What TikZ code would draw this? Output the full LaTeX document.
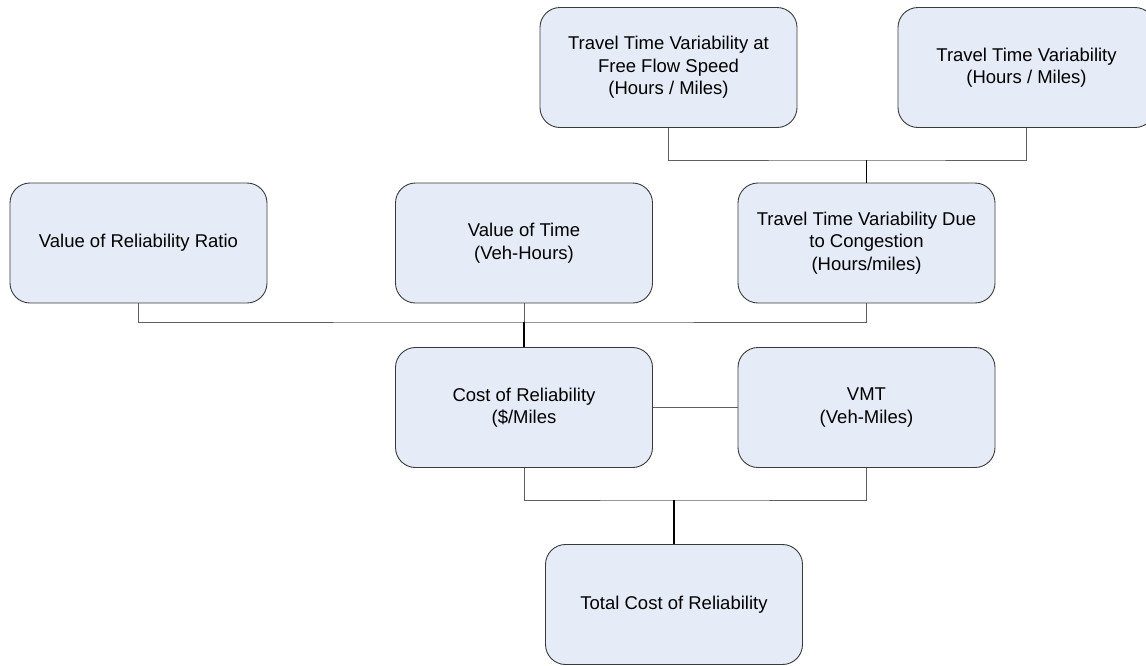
\documentclass[tikz,border=0pt]{standalone}
\usepackage{fontspec}
\setmainfont{Liberation Sans}
\definecolor{boxfill}{HTML}{E6ECF7}
\definecolor{boxline}{HTML}{3A3A3A}
\definecolor{linkgray}{HTML}{606060}
\begin{document}
\begin{tikzpicture}[x=1pt,y=-1pt,
  box/.style={draw=boxline, fill=boxfill, rounded corners=20pt, line width=0.9pt,
    minimum width=257pt, minimum height=120pt, align=center, inner sep=0pt,
    font=\fontsize{18.5}{22.5}\selectfont},
  link/.style={draw=linkgray, line width=1pt},
  trunk/.style={draw=black, line width=1.3pt}]
\useasboundingbox (0,0) rectangle (1146,665);
\clip (0,0) rectangle (1146,665);

% boxes
\node[box] (ffs)   at (668.5,67.5) {Travel Time Variability at\\Free Flow Speed\\(Hours / Miles)};
\node[box] (ttv)   at (1026.5,67.5) {Travel Time Variability\\(Hours / Miles)};
\node[box] (vorr)  at (138.5,243) {Value of Reliability Ratio};
\node[box] (vot)   at (524,243) {Value of Time\\(Veh-Hours)};
\node[box] (cong)  at (866.5,243) {Travel Time Variability Due\\to Congestion\\(Hours/miles)};
\node[box] (cost)  at (524,407.5) {Cost of Reliability\\(\$/Miles};
\node[box] (vmt)   at (866.5,407.5) {VMT\\(Veh-Miles)};
\node[box] (total) at (674,604.5) {Total Cost of Reliability};

% junctions
\coordinate (j1) at (866.5,160);
\coordinate (j2) at (524,322);
\coordinate (j3) at (674,500);

% connectors
\draw[link] (ffs.south) |- (j1) -| (ttv.south);
\draw[trunk] (j1) -- (cong.north);
\draw[link] (vorr.south) |- (j2) -| (cong.south);
\draw[link] (vot.south) -- (j2);
\draw[trunk] (j2) -- (cost.north);
\draw[link] (cost.east) -- (vmt.west);
\draw[link] (cost.south) |- (j3) -| (vmt.south);
\draw[trunk] (j3) -- (total.north);
\end{tikzpicture}
\end{document}
